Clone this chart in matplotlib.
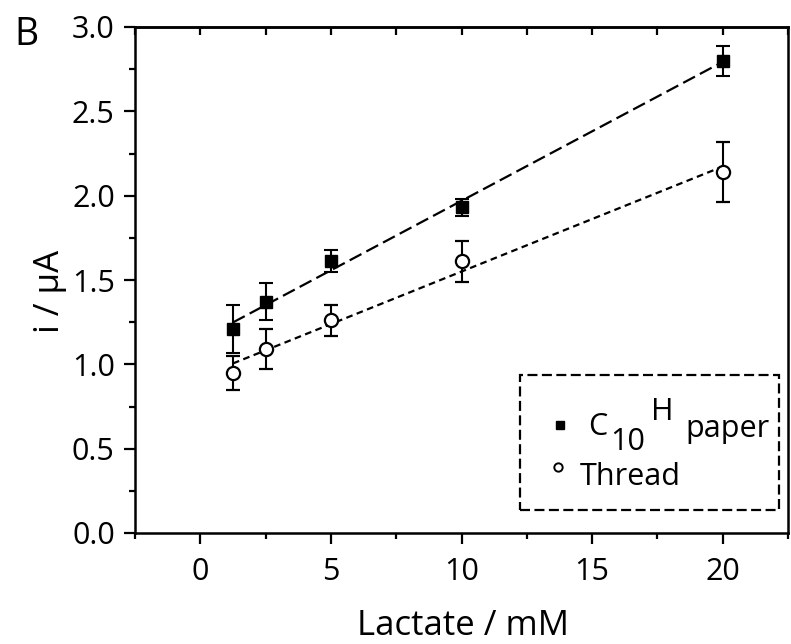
import matplotlib
matplotlib.use("Agg")
import matplotlib.pyplot as plt
import numpy as np
from matplotlib.ticker import MultipleLocator, FormatStrFormatter

plt.rcParams['font.family'] = ['Open Sans', 'DejaVu Sans']

lactate = [1.25, 2.5, 5, 10, 20]
paper_i = [1.21, 1.37, 1.61, 1.93, 2.80]
paper_err = [0.14, 0.11, 0.065, 0.05, 0.09]
thread_i = [0.95, 1.09, 1.26, 1.61, 2.14]
thread_err = [0.10, 0.12, 0.09, 0.12, 0.18]

W, H = 791, 644
fig = plt.figure(figsize=(W / 100, H / 100), dpi=100)
ax = fig.add_axes([135 / W, 1 - 533 / H, (788 - 135) / W, (533 - 27) / H])

x = np.array(lactate)
# linear fits
for ys, dash in [(paper_i, (6, 2.5)), (thread_i, (3, 2))]:
    k, b = np.polyfit(x, ys, 1)
    ax.plot([x[0], x[-1]], [k * x[0] + b, k * x[-1] + b], color='black',
            lw=1.6, dashes=dash, zorder=2)

ax.errorbar(lactate, paper_i, yerr=paper_err, fmt='s', color='black',
            ms=8, mfc='black', mec='black', capsize=5, elinewidth=1.5,
            capthick=1.5, zorder=3)
ax.errorbar(lactate, thread_i, yerr=thread_err, fmt='o', color='black',
            ms=9.5, mfc='white', mec='black', mew=1.6, capsize=5,
            elinewidth=1.5, capthick=1.5, zorder=3)

ax.set_xlim(-2.5, 22.5)
ax.set_ylim(0, 3.0)
ax.xaxis.set_major_locator(MultipleLocator(5))
ax.xaxis.set_minor_locator(MultipleLocator(2.5))
ax.yaxis.set_major_locator(MultipleLocator(0.5))
ax.yaxis.set_minor_locator(MultipleLocator(0.25))
ax.yaxis.set_major_formatter(FormatStrFormatter('%.1f'))

for s in ax.spines.values():
    s.set_linewidth(1.8)
ax.tick_params(which='both', direction='out', width=1.6, labelsize=22,
               top=False, right=False)
ax.tick_params(which='major', length=8)
ax.tick_params(which='minor', length=4)
ax.tick_params(axis='y', which='major', pad=6.5)
ax.tick_params(axis='x', which='major', pad=9)

# top ticks, pointing in
top = ax.secondary_xaxis('top')
top.xaxis.set_major_locator(MultipleLocator(2.5))
top.tick_params(direction='in', length=6, width=1.6, labeltop=False)
top.spines['top'].set_linewidth(1.8)

fig.text(463 / W, 1 - 635 / H, 'Lactate / mM', fontsize=25,
         ha='center', va='baseline')
fig.text(59 / W, 1 - 291 / H, 'i / \u03bcA', fontsize=25, rotation=90,
         rotation_mode='anchor', ha='center', va='baseline')
fig.text(14 / W, 1 - 45 / H, 'B', fontsize=27, va='baseline', ha='left')

# legend box
ax.add_patch(plt.Rectangle((520, H - 510), 259, 135, transform=None,
                           fill=False, lw=1.6, ls=(0, (4.5, 2)),
                           color='black', zorder=4))
ax.plot([560], [H - 425], 's', color='black', ms=6, transform=None,
        clip_on=False)
ax.plot([558], [H - 467], 'o', mfc='white', mec='black', ms=6, mew=1.4,
        transform=None, clip_on=False)
fs = 22
fig.text(588 / W, 1 - 435 / H, 'C', fontsize=fs, va='baseline')
fig.text(610 / W, 1 - 450 / H, '10', fontsize=fs, va='baseline')
fig.text(651 / W, 1 - 420 / H, 'H', fontsize=fs, va='baseline')
fig.text(685 / W, 1 - 437 / H, 'paper', fontsize=fs, va='baseline')
fig.text(580 / W, 1 - 485 / H, 'Thread', fontsize=fs, va='baseline')

fig.savefig('out.png', dpi=100)
